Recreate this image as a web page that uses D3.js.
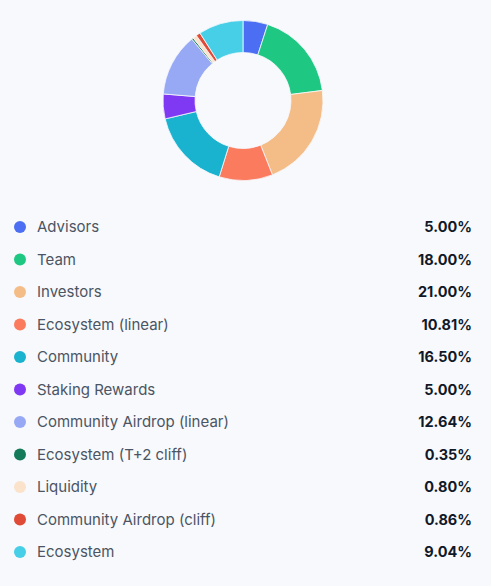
<!DOCTYPE html>
<html><head><meta charset="utf-8">
<script src="https://cdn.jsdelivr.net/npm/d3@7"></script>
<style>
html,body{margin:0;padding:0;background:#f8f9fc;}
svg{display:block;}
</style></head>
<body>
<svg id="chart" width="491" height="586"></svg>
<script>
const categories = ["Advisors","Team","Investors","Ecosystem (linear)","Community","Staking Rewards","Community Airdrop (linear)","Ecosystem (T+2 cliff)","Liquidity","Community Airdrop (cliff)","Ecosystem"];
const values = [5.00,18.00,21.00,10.81,16.50,5.00,12.64,0.35,0.80,0.86,9.04];
const colors = ["#4c6ef2","#1ec883","#f4bc86","#fb7b5f","#19b2cf","#8039f2","#97a9f5","#157a59","#fae2cb","#df4b36","#46cfe6"];

const svg = d3.select("#chart");
const cx = 243, cy = 100.5, rO = 80, rI = 48;

const pie = d3.pie().sort(null).value(d => d)(values);
const arc = d3.arc().innerRadius(rI).outerRadius(rO);
svg.append("g").attr("transform", `translate(${cx},${cy})`)
  .selectAll("path").data(pie).join("path")
  .attr("d", arc)
  .attr("fill", (d,i) => colors[i])
  .attr("stroke", "#f8f9fc").attr("stroke-width", 0.8);

const y = d3.scalePoint().domain(categories).range([227, 552]);
const rows = svg.append("g").selectAll("g").data(categories).join("g")
  .attr("transform", d => `translate(0,${y(d)})`);
rows.append("circle").attr("cx", 20).attr("cy", 0).attr("r", 6)
  .attr("fill", (d,i) => colors[i]);
rows.append("text").attr("x", 37).attr("y", 0).attr("dy", "0.35em")
  .attr("font-family", "Inter, sans-serif").attr("font-size", 15)
  .attr("fill", "#4b5563").text(d => d);
rows.append("text").attr("x", 472).attr("y", 0).attr("dy", "0.35em")
  .attr("text-anchor", "end")
  .attr("font-family", "Inter, sans-serif").attr("font-size", 14.5).attr("font-weight", 700)
  .attr("fill", "#111827").text((d,i) => values[i].toFixed(2) + "%");
</script>
</body></html>
